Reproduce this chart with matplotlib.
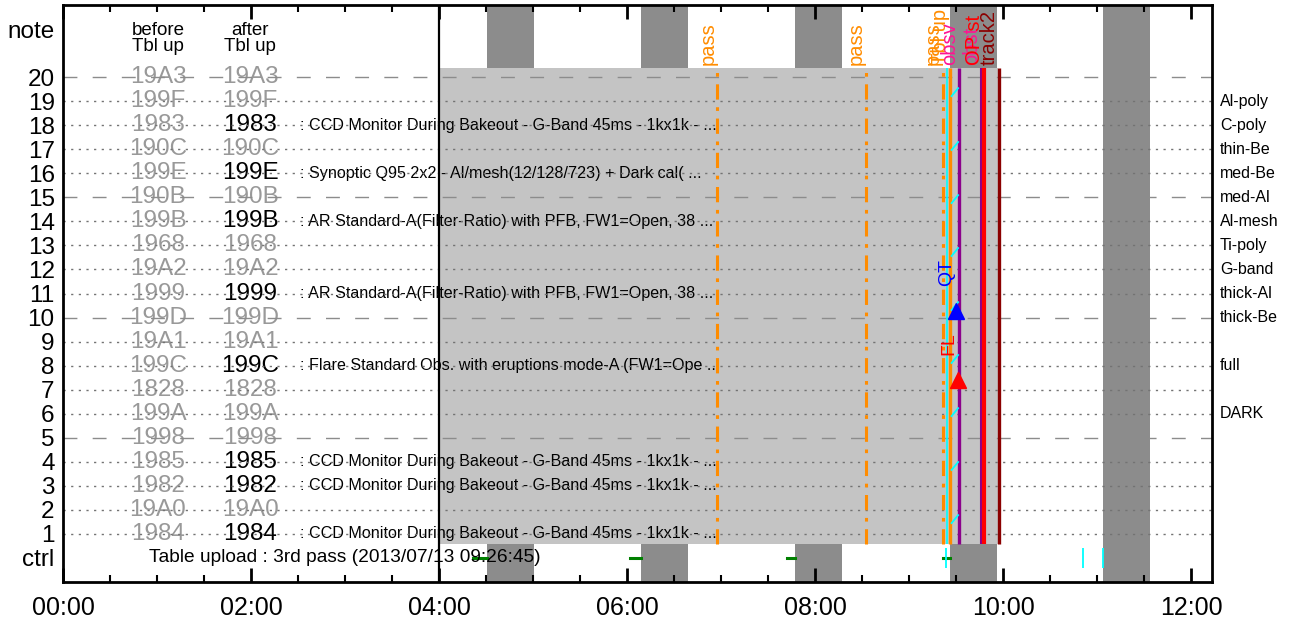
import matplotlib
matplotlib.use("Agg")
import matplotlib.pyplot as plt
from matplotlib.ticker import FixedLocator, FuncFormatter

plt.rcParams['font.family'] = ['Liberation Sans', 'DejaVu Sans']

# ---- data -------------------------------------------------------------
rows = list(range(1, 21))
before_codes = ['1984', '19A0', '1982', '1985', '1998', '199A', '1828', '199C', '19A1', '199D',
                '1999', '19A2', '1968', '199B', '190B', '199E', '190C', '1983', '199F', '19A3']
after_codes = ['1984', '19A0', '1982', '1985', '1998', '199A', '1828', '199C', '19A1', '199D',
               '1999', '19A2', '1968', '199B', '190B', '199E', '190C', '1983', '199F', '19A3']
changed_rows = [1, 3, 4, 8, 11, 14, 16, 18]

desc_rows = [18, 16, 14, 11, 8, 4, 3, 1]
desc_texts = [
    ': CCD Monitor During Bakeout - G-Band 45ms - 1kx1k - ...',
    ': Synoptic Q95 2x2 - Al/mesh(12/128/723) + Dark cal( ...',
    ': AR Standard-A(Filter-Ratio) with PFB, FW1=Open, 38 ...',
    ': AR Standard-A(Filter-Ratio) with PFB, FW1=Open, 38 ...',
    ': Flare Standard Obs. with eruptions mode-A (FW1=Ope ...',
    ': CCD Monitor During Bakeout - G-Band 45ms - 1kx1k - ...',
    ': CCD Monitor During Bakeout - G-Band 45ms - 1kx1k - ...',
    ': CCD Monitor During Bakeout - G-Band 45ms - 1kx1k - ...',
]

filter_rows = [19, 18, 17, 16, 15, 14, 13, 12, 11, 10, 8, 6]
filter_names = ['Al-poly', 'C-poly', 'thin-Be', 'med-Be', 'med-Al', 'Al-mesh',
                'Ti-poly', 'G-band', 'thick-Al', 'thick-Be', 'full', 'DARK']

# night (dark) intervals, hours
night_start = [4.51, 6.15, 7.79, 9.43, 11.06]
night_end = [5.01, 6.65, 8.29, 9.93, 11.56]

# observing table window (hours)
table_start = 4.0
table_end = 9.94

# events: time (h), label, colour, style, width
event_times = [6.96, 8.54, 9.36, 9.43, 9.40, 9.53, 9.76, 9.79, 9.95]
event_labels = ['pass', 'pass', 'pass', 'Tbl up', '', 'obsv', 'obst', 'OP st', 'track2']
event_colors = ['darkorange', 'darkorange', 'darkorange', 'darkorange', 'cyan',
                'darkmagenta', 'darkmagenta', 'red', 'darkred']
label_colors = ['darkorange', 'darkorange', 'darkorange', 'darkorange', 'cyan',
                'deeppink', 'deeppink', 'red', 'darkred']
event_styles = ['dashdot', 'dashdot', 'dashdot', 'solid', 'solid', 'solid', 'solid', 'solid', 'solid']
event_widths = [2.2, 2.2, 2.2, 2.4, 1.2, 2.4, 1.5, 3.0, 2.4]

# small cyan tracks
cyan_rows = [19.54, 17.30, 15.09, 12.89, 10.64, 8.44, 6.23, 3.99, 1.78]

# flare / QT triggers
trig_times = [9.50, 9.52]
trig_rows = [10.27, 7.40]
trig_labels = ['QT', 'FL']
trig_colors = ['blue', 'red']

# ctrl row
green_start = [4.36, 6.03, 7.70, 9.36]
green_end = [4.51, 6.15, 7.79, 9.43]
ctrl_cyan = [9.39, 10.85, 11.06]
ctrl_text = 'Table upload : 3rd pass (2013/07/13 09:26:45)'

# ---- figure ------------------------------------------------------------
fig = plt.figure(figsize=(12.96, 6.25), dpi=100)
ax = fig.add_axes([63 / 1296, 43 / 625, (1212 - 63) / 1296, (582 - 5) / 625])
ax.set_xlim(0, 12.22)
ax.set_ylim(-1, 23)

for s, e in zip(night_start, night_end):
    ax.axvspan(s, e, color='#8c8c8c', lw=0, zorder=0)
ax.fill_between([table_start, table_end], 0.6, 20.4, color='#c4c4c4', lw=0, zorder=1)

# grid rows
for r in rows:
    if r % 5 == 0:
        ax.axhline(r, color='0.55', lw=1, dashes=(10, 11), zorder=2)
    else:
        ax.axhline(r, color='0.45', lw=1, dashes=(1.6, 3.9), zorder=2)

ax.axvline(table_start, color='black', lw=1.6, zorder=4)

# event lines
for t, lab, c, lc, st, w in zip(event_times, event_labels, event_colors, label_colors,
                                event_styles, event_widths):
    if st == 'dashdot':
        ax.vlines(t, 0.6, 20.4, color=c, lw=w, linestyles=[(0, (5, 2.5, 1.2, 2.5))], zorder=3)
    else:
        ax.vlines(t, 0.6, 20.4, color=c, lw=w, zorder=3)
    if lab:
        ax.text(t, 20.5, lab, rotation=90, color=lc, fontsize=14.5,
                ha='right', va='bottom', zorder=5)

for r in cyan_rows:
    ax.plot([9.45, 9.52], [r - 0.33, r], color='cyan', lw=1.3, zorder=4)

for t, r, lab, c in zip(trig_times, trig_rows, trig_labels, trig_colors):
    ax.plot(t, r, marker='^', color=c, ms=11, zorder=6)
    ax.text(t - 0.01, r + 1.05, lab, rotation=90, color=c, fontsize=14,
            ha='right', va='bottom', zorder=6)

# ctrl row
for s, e in zip(green_start, green_end):
    ax.plot([s, e], [0, 0], color='green', lw=2.2, zorder=3)
for t in ctrl_cyan:
    ax.vlines(t, -0.4, 0.4, color='cyan', lw=1.3, zorder=3)
ax.text(3.0, 0, ctrl_text, fontsize=13.8, ha='center', va='center', zorder=5)

# table text
ax.text(1.01, 21.6, 'before\nTbl up', fontsize=13.5, ha='center', va='center', linespacing=0.9)
ax.text(1.99, 21.6, 'after\nTbl up', fontsize=13.5, ha='center', va='center', linespacing=0.9)
for r, b, a in zip(rows, before_codes, after_codes):
    ax.text(1.01, r, b, fontsize=17.5, color='0.6', ha='center', va='center', zorder=1.5)
    ax.text(1.99, r, a, fontsize=17.5, color='black' if r in changed_rows else '0.6',
            ha='center', va='center', zorder=1.5)
for r, d in zip(desc_rows, desc_texts):
    ax.text(2.52, r, d, fontsize=11.6, ha='left', va='center', zorder=1.5)

for r, n in zip(filter_rows, filter_names):
    ax.text(1.007, r, n, transform=ax.get_yaxis_transform(), fontsize=11.5,
            ha='left', va='center', clip_on=False)

# axes styling
ytick_pos = [0] + rows + [22]
ytick_lab = ['ctrl'] + [str(r) for r in rows] + ['note']
ax.set_yticks(ytick_pos)
ax.set_yticklabels(ytick_lab, fontsize=17.5)
ax.tick_params(axis='y', length=0, pad=6)

ax.xaxis.set_major_locator(FixedLocator([0, 2, 4, 6, 8, 10, 12]))
ax.xaxis.set_minor_locator(FixedLocator([h * 0.5 for h in range(25)]))
ax.xaxis.set_major_formatter(FuncFormatter(lambda v, p: '%02d:00' % int(round(v))))
ax.tick_params(axis='x', which='major', direction='in', top=True, length=10, width=2,
               labelsize=18, pad=10)
ax.tick_params(axis='x', which='minor', direction='in', top=True, length=5, width=1.5)

for sp in ax.spines.values():
    sp.set_linewidth(2)
    sp.set_zorder(7)

fig.savefig('out.png', dpi=100)
